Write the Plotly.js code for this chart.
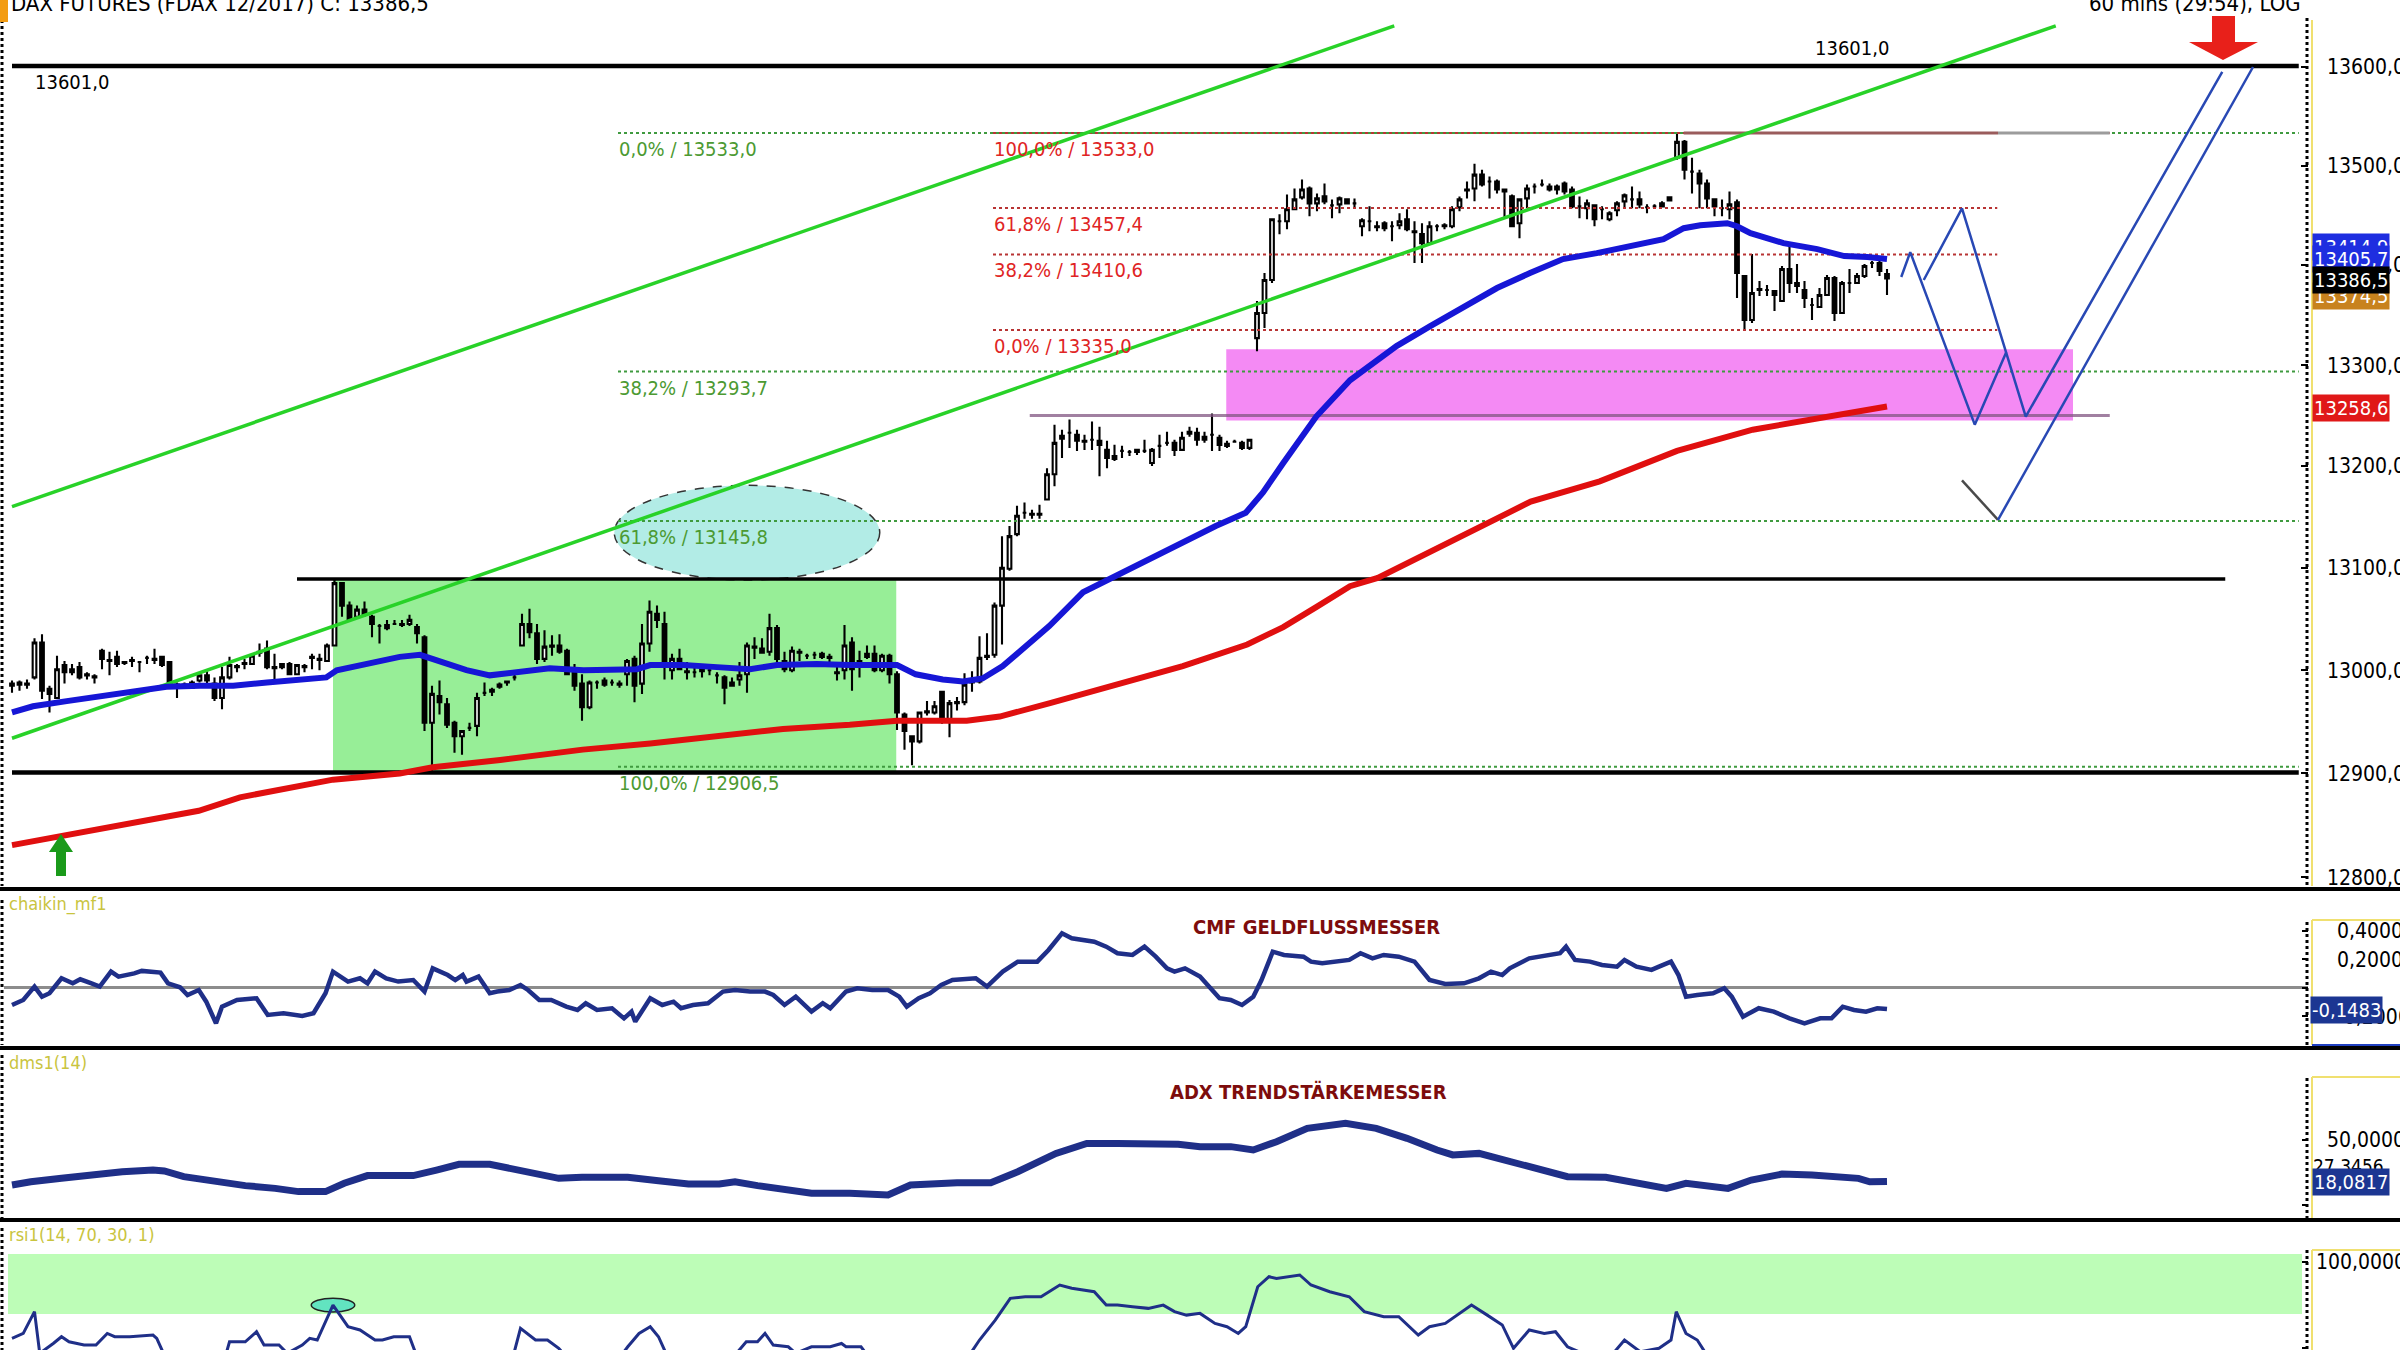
<!DOCTYPE html>
<html><head><meta charset="utf-8">
<script src="https://cdn.plot.ly/plotly-3.0.1.min.js"></script>
<style>html,body{margin:0;padding:0;background:#fff}#chart{width:2400px;height:1350px}</style>
</head><body><div id="chart"></div>
<script>
// ---------------- DATA ----------------
const open = [12985,12986,12987,12993,13027,12982,12973,13005,12998,13003,
12996,12994,13019,13010,13013,13008,13009,13008,13012,13011,
13013,13008,12986,12985,12983,12990,12995,12987,12973,12993,
13003,13006,13006,13017,13021,13003,13003,13006,12996,13003,
13012,13010,13009,13024,13085,13063,13052,13059,13052,13043,
13041,13045,13045,13045,13042,13032,12949,12975,12967,12949,
12936,12944,12946,12978,12979,12984,12988,12993,13024,13045,
13036,13011,13023,13024,13019,12998,12987,12964,12988,12990,
12988,12987,12996,13011,12987,13026,13055,13045,13000,13011,
12999,12998,12999,13000,12995,12993,12988,12991,12996,13023,
13021,13018,13041,13009,13000,13018,13014,13015,13016,13013,
12998,13000,13027,13005,13013,13016,13000,13014,12996,12957,
12936,12931,12959,12959,12979,12950,12968,12969,12988,12989,
13013,13015,13063,13099,13133,13154,13153,13153,13167,13192,
13227,13233,13231,13225,13226,13225,13216,13207,13215,13214,
13214,13215,13203,13220,13223,13223,13216,13232,13233,13226,
13231,13228,13220,13224,13223,13218,13327,13352,13385,13444,
13444,13456,13468,13477,13462,13469,13460,13461,13466,13462,
13439,13444,13439,13442,13439,13440,13446,13434,13431,13422,
13439,13440,13439,13458,13475,13477,13491,13484,13484,13476,
13469,13442,13467,13479,13481,13479,13476,13482,13476,13459,
13457,13460,13456,13446,13455,13464,13466,13466,13458,13459,
13459,13465,13508,13524,13494,13492,13482,13466,13457,13456,
13463,13389,13345,13376,13375,13374,13364,13396,13382,13375,
13360,13358,13370,13387,13352,13382,13382,13389,13402,13402,
13391];
const high = [12990,12990,12991,13031,13035,12985,13014,13009,13006,13008,
12998,12996,13021,13018,13019,13009,13013,13009,13014,13021,
13014,13009,12988,12988,12990,12996,13000,12993,13003,13013,
13006,13011,13016,13026,13029,13016,13006,13008,13006,13006,
13016,13016,13026,13088,13086,13067,13063,13067,13054,13045,
13049,13049,13049,13054,13045,13034,12985,12990,12973,12951,
12942,12949,12978,12988,12983,12988,12990,12996,13055,13060,
13045,13039,13034,13035,13021,13006,12996,12990,12990,12993,
12991,12990,13011,13014,13045,13068,13063,13057,13016,13021,
13008,13003,13006,13003,12998,12995,12993,13008,13027,13032,
13031,13055,13044,13018,13023,13021,13016,13018,13018,13016,
13003,13044,13032,13019,13024,13024,13016,13016,12999,12959,
12937,12960,12970,12970,12979,12971,12974,12997,12999,13033,
13036,13066,13131,13141,13161,13164,13157,13162,13198,13241,
13236,13246,13236,13231,13244,13239,13225,13221,13220,13216,
13216,13226,13218,13231,13234,13226,13234,13239,13238,13234,
13252,13231,13225,13226,13225,13227,13364,13392,13447,13451,
13471,13477,13486,13479,13472,13482,13466,13469,13467,13467,
13447,13459,13444,13444,13444,13452,13456,13444,13442,13444,
13441,13442,13459,13469,13484,13502,13496,13489,13486,13477,
13471,13467,13481,13482,13486,13482,13481,13484,13479,13469,
13466,13461,13459,13454,13464,13472,13479,13474,13461,13461,
13464,13469,13533,13526,13508,13496,13486,13467,13466,13474,
13466,13390,13411,13384,13380,13374,13399,13421,13401,13384,
13367,13377,13390,13389,13384,13396,13392,13401,13404,13406,
13396];
const low = [12978,12980,12982,12991,12972,12959,12972,12987,12995,12991,
12991,12987,13001,12995,13003,13005,13003,12998,13006,13006,
13003,12985,12973,12982,12982,12988,12985,12970,12962,12991,
12998,13001,13005,13013,13001,12991,13001,12995,12995,12998,
13001,13000,13008,13023,13052,13049,13050,13052,13032,13026,
13039,13044,13042,13043,13026,12941,12902,12957,12944,12920,
12918,12941,12936,12975,12975,12982,12985,12990,13023,13031,
13006,13008,13014,13016,12995,12980,12951,12962,12982,12984,
12985,12983,12985,12969,12977,13018,13041,12991,12991,13000,
12991,12993,12993,12995,12987,12967,12985,12985,12978,13011,
13016,13014,13006,12998,12998,13009,13011,13011,13011,13008,
12990,12991,12980,12993,13011,12998,12998,12987,12942,12923,
12908,12929,12956,12957,12948,12935,12961,12966,12979,12987,
13010,13012,13025,13097,13131,13148,13148,13148,13166,13180,
13208,13218,13215,13216,13216,13190,13198,13205,13208,13210,
13211,13213,13200,13208,13220,13210,13215,13229,13220,13223,
13215,13215,13218,13223,13216,13216,13314,13337,13382,13431,
13436,13456,13466,13449,13454,13461,13447,13452,13461,13457,
13429,13434,13434,13434,13424,13436,13434,13402,13402,13421,
13434,13436,13437,13454,13467,13464,13479,13467,13472,13447,
13439,13427,13457,13472,13479,13474,13471,13471,13457,13447,
13446,13439,13446,13444,13449,13457,13457,13457,13452,13457,
13458,13464,13506,13486,13472,13457,13457,13449,13449,13446,
13367,13335,13342,13369,13369,13354,13364,13372,13372,13357,
13345,13357,13369,13344,13352,13372,13381,13387,13397,13389,
13370];
const close = [12987,12988,12986,13027,12980,12977,13001,12998,13001,12993,
12995,12993,13011,13009,13006,13007,13010,13008,13012,13010,
13005,12987,12985,12986,12988,12995,12990,12973,12993,13005,
13004,13007,13014,13018,13003,13002,13006,12996,13005,13004,
13013,13011,13024,13085,13063,13050,13059,13054,13045,13043,
13044,13045,13044,13049,13036,12949,12977,12969,12947,12936,
12941,12944,12973,12978,12981,12986,12989,12993,13045,13037,
13011,13023,13024,13018,12996,12985,12964,12988,12988,12986,
12988,12986,13009,12985,13026,13057,13049,13005,13011,13001,
12998,12998,13002,13000,12995,12983,12985,12995,13024,13022,
13017,13041,13011,13001,13019,13017,13014,13015,13013,13012,
12997,13024,13001,13009,13016,13000,13014,12996,12959,12941,
12931,12959,12960,12965,12950,12968,12969,12986,12989,13012,
13014,13063,13100,13131,13151,13154,13152,13152,13192,13223,
13230,13233,13225,13224,13226,13221,13208,13210,13215,13214,
13216,13215,13216,13220,13223,13216,13228,13234,13226,13229,
13231,13221,13222,13224,13218,13226,13352,13385,13446,13444,
13456,13466,13476,13462,13467,13464,13460,13467,13462,13462,
13445,13444,13438,13437,13439,13444,13436,13433,13422,13439,
13439,13439,13456,13466,13476,13491,13481,13484,13476,13474,
13439,13466,13477,13479,13481,13476,13479,13474,13459,13459,
13462,13446,13456,13452,13462,13470,13466,13461,13458,13459,
13462,13468,13524,13496,13494,13482,13467,13459,13457,13461,
13392,13345,13372,13375,13375,13370,13396,13382,13379,13367,
13360,13370,13387,13352,13382,13382,13389,13399,13402,13394,
13386.5];
const bar = open.map((_, i) => i);

// moving averages (read as points)
const blueMaX = [0,2.8,7.3,11.7,16.2,20.6,25.1,29.5,34,38.4,41.9,43.3,47.3,51.7,54.4,56.2,60.6,63.7,67.3,71.7,76.2,80.6,83.3,85.1,89.5,94,98.4,102,107.3,111.7,116.2,118,120.5,124.1,126.8,129.4,132.1,135.2,138.3,142.8,147.2,151.7,156.1,160.5,164.5,166.8,169.5,173.9,178.4,184.6,189.1,193.5,198,202.4,206.8,211.3,215.7,220.2,222.9,225.1,228.7,230,231.8,236.2,240.7,244.3,247.4,250];
const blueMaY = [12959,12965,12970,12975,12980,12984,12985,12985,12988,12990,12993,13000,13006,13013,13015,13011,13000,12995,12998,13002,13000,13000,13001,13005,13005,13003,13001,13005,13006,13005,13006,13005,12996,12991,12989,12992,13004,13023,13043,13076,13092,13110,13125,13141,13154,13174,13203,13249,13285,13319,13339,13357,13377,13392,13406,13412,13419,13426,13437,13440,13442,13439,13432,13422,13416,13409,13408,13406];
const redMaX = [0,24.9,30.4,42.8,51.7,56.1,65.1,67.3,76.1,85.1,94,102.8,111.7,118,127.3,131.7,138.4,147.3,156.1,164.7,169.5,174,178.4,182.1,202.5,211.7,222,232.1,242.4,250];
const redMaY = [12831,12864,12877,12894,12900,12906,12913,12915,12923,12929,12936,12943,12947,12951,12951,12955,12968,12986,13004,13025,13042,13062,13082,13090,13165,13185,13215,13236,13250,13259];

// indicators
const cmfX = [0,1.5,3,4,5,6.6,8.1,9.1,10.6,11.7,13.2,14.2,16.3,17.3,19.8,20.8,22.4,23.4,24.9,25.9,27.2,28,30,32.6,34.1,36.2,38.7,40.2,41.8,42.8,44.8,46.4,47.4,48.4,49.9,51.5,53.5,55,56.1,58.1,59.1,60.1,60.6,62.2,63.7,64.7,66.3,67.8,68.8,70.3,71.9,73.9,75.4,76.5,78,80,81.6,82.6,83.1,85.1,86.7,88.2,89.2,90.8,92.8,94.8,96.4,98.4,100.4,101.5,103,104.5,106.6,108.1,109.1,111.2,112.7,114.7,116.8,118.3,119.3,120.9,122.4,123.9,125.4,128.5,130,132.1,134.1,136.7,138.2,140,141.3,144.3,145.9,147.4,149.4,151,152.5,154,155,156.4,158.4,159.9,161,162.5,164,165.5,166.6,168.1,169.6,172.2,173.2,174.7,176.3,178.3,179.8,181.4,182.9,184.9,187,189,191.1,193.6,195.6,197.2,198.7,199.7,202.3,204.8,206.4,207.2,208.4,210.4,212,214,215,216.6,218.6,219.6,221.2,222.2,223.2,224.7,226.8,228.3,229.3,230.8,232.9,234.9,237,239,241.1,242.6,244.1,245.6,247.2,248.7,250];
const cmfY = [-0.119,-0.084,0.010,-0.061,-0.037,0.068,0.033,0.061,0.033,0.010,0.115,0.080,0.103,0.120,0.108,0.033,0.005,-0.049,-0.014,-0.096,-0.248,-0.131,-0.084,-0.072,-0.189,-0.177,-0.196,-0.177,-0.037,0.115,0.045,0.068,0.033,0.115,0.068,0.045,0.056,-0.025,0.138,0.091,0.056,0.091,0.045,0.080,-0.037,-0.025,-0.014,0.021,-0.014,-0.084,-0.084,-0.131,-0.154,-0.107,-0.154,-0.142,-0.213,-0.166,-0.236,-0.072,-0.119,-0.096,-0.142,-0.119,-0.107,-0.025,-0.014,-0.025,-0.025,-0.049,-0.119,-0.061,-0.166,-0.107,-0.142,-0.025,-0.002,-0.014,-0.014,-0.061,-0.131,-0.072,-0.037,0.021,0.056,0.068,0.010,0.115,0.185,0.185,0.267,0.384,0.349,0.325,0.290,0.244,0.232,0.290,0.220,0.138,0.115,0.138,0.080,-0.014,-0.072,-0.084,-0.119,-0.061,0.056,0.255,0.232,0.220,0.185,0.173,0.185,0.197,0.244,0.208,0.232,0.220,0.185,0.056,0.028,0.033,0.068,0.115,0.091,0.138,0.208,0.232,0.244,0.290,0.197,0.185,0.162,0.150,0.197,0.150,0.127,0.150,0.185,0.091,-0.061,-0.049,-0.037,-0.002,-0.061,-0.201,-0.142,-0.166,-0.213,-0.248,-0.213,-0.213,-0.131,-0.154,-0.166,-0.142,-0.148];
const adxX = [0,2.5,6.6,10.6,14.7,18.8,20.3,22.9,27,31.1,35.1,38.2,41.8,44.3,47.4,53.5,56.6,59.6,63.7,67.8,72.9,76,82.1,86.2,90.2,94.3,96.4,99.4,102.5,106.6,111.7,114.7,116.8,119.8,122.9,126,130.5,134.1,139.2,143.3,147.4,151.5,155.5,158.4,162.5,165.5,168.6,172.7,177.8,181.9,186,190,192.1,195.6,199.2,203.3,207.4,212.5,216.6,220.6,223.2,225.7,228.8,231.9,236,240,243.1,246.2,247.7,250];
const adxY = [15.4,17.9,20.5,23.1,25.6,26.9,26.2,21.8,17.9,14.9,12.8,10.3,10.3,16.7,22.6,22.6,26.9,31.3,31.3,26.9,20.5,21.3,21.3,18.7,16.2,16.2,17.9,14.9,12.3,9.0,9.0,8.5,7.7,15.4,16.7,17.2,17.2,25.6,39.7,47.4,47.4,47.4,46.7,44.9,44.9,42.3,48.7,59.0,62.8,59.0,51.3,42.3,38.5,39.7,34.6,28.2,21.8,21.3,16.7,12.8,16.7,15.4,12.8,19.2,23.8,23.1,21.3,20.5,17.9,18.1];
const rsiX = [0,1.5,3,3.7,5.5,6.6,7.6,9.6,11.2,12.7,13.7,15.7,18.8,19.3,20.3,22.9,28.5,29,31.1,32.6,33.6,35.6,36.7,38.7,39.7,40.7,42.8,44.8,46.4,48.4,49.4,50.9,53,54,59.6,66.8,67.8,69.8,71.4,72.9,73.9,81.1,82.1,83.6,85.1,86.2,87.2,96.4,97.9,99.4,100.4,101.5,103.5,104.5,106.6,109.1,110.6,111.2,113.2,113.7,116.8,127.5,129,131.1,133.1,135.1,137.2,139.7,141.3,144.3,145.9,147.4,149.4,151.5,153.5,155,156.6,158.4,160.4,162,163.5,164.5,166.1,167.6,168.6,171.7,173.2,175.7,178.3,180.3,182.9,184.9,187.5,189,191.1,193.1,194.6,196.7,198.7,200.2,202.3,204.3,205.8,207.4,209.4,213.5,215,217.1,219.6,221.2,221.9,223.2,224.7,225.7,230,250];
const rsiY = [55.9,58.7,71.3,47.2,52.9,56.8,53.9,52.0,52.0,58.7,56.8,56.8,57.8,55.9,46.2,45.2,46.2,53.9,53.9,59.7,52.0,52.0,47.2,52.0,55.9,54.9,75.1,62.6,60.7,54.9,54.9,56.8,56.8,45.2,45.2,45.2,61.6,54.9,54.9,50.1,45.2,45.2,51.0,58.7,62.6,56.8,47.2,46.2,53.9,53.9,58.7,52.0,51.0,47.2,51.0,51.0,52.9,51.0,51.0,48.1,46.2,45.2,54.9,66.4,79.0,79.9,79.9,86.7,84.8,82.8,75.1,75.1,74.1,73.2,75.1,71.3,69.3,70.3,64.5,62.6,58.7,62.6,85.7,91.5,90.5,92.5,86.7,82.8,79.9,71.3,68.4,68.4,57.8,62.6,64.5,70.3,75.1,69.3,63.6,50.1,60.7,58.7,59.7,51.0,47.2,47.2,54.9,48.1,50.1,54.9,71.3,58.7,54.9,48.1,45,46];

// levels, fibonacci, drawings
const blackLevels = [13601, 13089, 12901];
const blackFrom = [0, 38, 0];
const blackTo = [304.9, 295.1, 304.9];
const fibGreenLevels = [13533, 13293.7, 13145.8, 12906.5];
const fibGreenLabels = ['0,0% / 13533,0', '38,2% / 13293,7', '61,8% / 13145,8', '100,0% / 12906,5'];
const fibRedLevels = [13533, 13457.4, 13410.6, 13335];
const fibRedLabels = ['100,0% / 13533,0', '61,8% / 13457,4', '38,2% / 13410,6', '0,0% / 13335,0'];
const fibRedTo = [279.7, 264.7, 264.7, 264.7];
const channelUpX = [0, 184.3], channelUpY = [13160, 13642];
const channelLoX = [0, 272.5], channelLoY = [12934, 13642];
const zig1X = [251.9, 253.1, 261.7, 265.9], zig1Y = [13388, 13413, 13241, 13313];
const zig2X = [254.9, 260, 268.5, 294.7], zig2Y = [13385, 13457, 13249, 13595];
const checkX = [260, 264.8], checkY = [13186, 13147];
const riseX = [264.8, 298.8], riseY = [13147, 13600];
const priceTicks = [12800, 12900, 13000, 13100, 13200, 13300, 13400, 13500, 13600];
const priceTickText = ['12800,00','12900,00','13000,00','13100,00','13200,00','13300,00','13400,00','13500,00','13600,00'];

// ---------------- GEOMETRY HELPERS ----------------
const W = 2400, H = 1350, ML = 4, MR = 92, PW = W - ML - MR;
const X = px => (px - ML) / PW;
const Y = py => 1 - py / H;
const PRICE_DOM = [0.342222, 0.986667];
const LOG_RANGE = [4.1068683, 4.1351307];
const PY = p => PRICE_DOM[0] + (Math.log10(p) - LOG_RANGE[0]) / (LOG_RANGE[1] - LOG_RANGE[0]) * (PRICE_DOM[1] - PRICE_DOM[0]);
const FONT = "'Liberation Sans Narrow', 'Arial Narrow', 'DejaVu Sans Condensed', 'Liberation Sans', sans-serif";

function line(x, y, color, width, dash, yaxis) {
  return {type: 'scatter', mode: 'lines', x: x, y: y, xaxis: 'x', yaxis: yaxis || 'y',
    line: {color: color, width: width, dash: dash || 'solid'}, hoverinfo: 'skip', showlegend: false};
}

const traces = [];
traces.push({type: 'candlestick', x: bar, open: open, high: high, low: low, close: close,
  xaxis: 'x', yaxis: 'y', whiskerwidth: 0, hoverinfo: 'skip', showlegend: false,
  increasing: {line: {color: '#000', width: 2.1}, fillcolor: '#ffffff'},
  decreasing: {line: {color: '#000', width: 2.1}, fillcolor: '#000000'}});

fibGreenLevels.forEach(v => traces.push(line([80.8, 304.9], [v, v], '#3f9a3f', 2, 'dot')));
fibRedLevels.forEach((v, i) => traces.push(line([130.8, fibRedTo[i]], [v, v], '#b83434', 2, 'dot')));
traces.push(line([222.9, 264.8], [13533, 13533], '#9a5c5c', 3));
traces.push(line([264.8, 279.7], [13533, 13533], '#9c9c9c', 3));
traces.push(line([135.7, 279.7], [13250, 13250], 'rgba(130,85,130,0.75)', 3));
blackLevels.forEach((v, i) => traces.push(line([blackFrom[i], blackTo[i]], [v, v], '#000', i === 1 ? 3.5 : 4.5)));
traces.push(line(channelUpX, channelUpY, '#28d228', 3.5));
traces.push(line(channelLoX, channelLoY, '#28d228', 3.5));
traces.push(line(redMaX, redMaY, '#e00f0f', 6));
traces.push(line(blueMaX, blueMaY, '#1616d6', 6));
traces.push(line(zig1X, zig1Y, '#2848b4', 2.5));
traces.push(line(zig2X, zig2Y, '#2848b4', 2.5));
traces.push(line(checkX, checkY, '#4a4a4a', 2.5));
traces.push(line(riseX, riseY, '#2848b4', 2.5));
traces.push(line(cmfX, cmfY, '#1f2f88', 4.5, 'solid', 'y2'));
traces.push(line(adxX, adxY, '#1f2f88', 7, 'solid', 'y3'));
traces.push(line(rsiX, rsiY, '#1f2f88', 3, 'solid', 'y4'));

// ---------------- SHAPES ----------------
function pxPath(pts) {
  return 'M ' + pts.map(p => X(p[0]).toFixed(5) + ',' + Y(p[1]).toFixed(5)).join(' L ') + ' Z';
}
function pxLine(x0, y0, x1, y1, color, width, dash) {
  return {type: 'line', xref: 'paper', yref: 'paper', x0: X(x0), x1: X(x1), y0: Y(y0), y1: Y(y1),
    line: {color: color, width: width, dash: dash || 'solid'}, layer: 'above'};
}
const shapes = [
  {type: 'rect', xref: 'x', yref: 'paper', x0: 42.8, x1: 117.9, y0: PY(12901), y1: PY(13089), fillcolor: '#97ee97', line: {width: 0}, layer: 'below'},
  {type: 'rect', xref: 'x', yref: 'paper', x0: 161.9, x1: 274.8, y0: PY(13245), y1: PY(13316), fillcolor: '#f48af4', line: {width: 0}, layer: 'below'},
  {type: 'circle', xref: 'x', yref: 'paper', x0: 80.3, x1: 115.7, y0: PY(13088), y1: PY(13181), fillcolor: '#b2ece6', line: {color: '#333', width: 1.5, dash: 'dash'}, layer: 'below'},
  {type: 'rect', xref: 'paper', yref: 'y4', x0: X(8), x1: X(2302), y0: 70, y1: 104.6, fillcolor: '#bdfdb7', line: {width: 0}, layer: 'below'},
  {type: 'circle', xref: 'x', yref: 'y4', x0: 39.9, x1: 45.7, y0: 71.1, y1: 79.1, fillcolor: '#62e4c0', line: {color: '#222', width: 1.5}, layer: 'below'},
  // panel separators
  pxLine(0, 889, 2400, 889, '#000', 4), pxLine(0, 1048, 2400, 1048, '#000', 4), pxLine(0, 1220, 2400, 1220, '#000', 4),
  // right axis dotted lines + yellow borders
  pxLine(2307, 18, 2307, 886, '#000', 3, 'dot'), pxLine(2307, 922, 2307, 1045, '#000', 3, 'dot'),
  pxLine(2307, 1078, 2307, 1218, '#000', 3, 'dot'), pxLine(2307, 1250, 2307, 1350, '#000', 3, 'dot'),
  pxLine(2312, 20, 2312, 886, '#f0e070', 2), pxLine(2312, 920, 2312, 1045, '#f0e070', 2),
  pxLine(2312, 1077, 2312, 1218, '#f0e070', 2), pxLine(2312, 1250, 2312, 1350, '#f0e070', 2),
  pxLine(2312, 920, 2400, 920, '#f0e070', 2), pxLine(2312, 1077, 2400, 1077, '#f0e070', 2), pxLine(2312, 1250, 2400, 1250, '#f0e070', 2),
  pxLine(2312, 1045, 2400, 1045, '#2040c0', 2),
  // left dotted axis
  pxLine(2, 20, 2, 886, '#000', 3, 'dot'), pxLine(2, 900, 2, 1045, '#000', 3, 'dot'),
  pxLine(2, 1055, 2, 1218, '#000', 3, 'dot'), pxLine(2, 1228, 2, 1350, '#000', 3, 'dot'),
  // arrows and marker
  {type: 'path', xref: 'paper', yref: 'paper', path: pxPath([[2212,16],[2235,16],[2235,42],[2258,42],[2223,60],[2189,42],[2212,42]]), fillcolor: '#e8201a', line: {width: 0}, layer: 'above'},
  {type: 'path', xref: 'paper', yref: 'paper', path: pxPath([[61,834],[73,852],[66,852],[66,876],[56,876],[56,852],[49,852]]), fillcolor: '#1a9a1a', line: {width: 0}, layer: 'above'},
  {type: 'rect', xref: 'paper', yref: 'paper', x0: X(0), x1: X(8), y0: Y(22), y1: Y(0), fillcolor: '#f39c12', line: {width: 0}, layer: 'above'}
];

// ---------------- ANNOTATIONS ----------------
function txt(text, x, y, o) {
  o = o || {};
  return {text: text, x: x, y: y, xref: o.xref || 'paper', yref: 'paper', showarrow: false,
    xanchor: o.xanchor || 'left', yanchor: o.yanchor || 'middle', yshift: o.yshift || 0,
    font: {family: FONT, size: o.size || 20, color: o.color || '#000'},
    bgcolor: o.bg || 'rgba(0,0,0,0)', borderpad: o.pad === undefined ? 0 : o.pad};
}
const annotations = [
  txt('DAX FUTURES (FDAX 12/2017) C: 13386,5', X(10), Y(4), {size: 22}),
  txt('60 mins (29:54), LOG', X(2302), Y(4), {size: 22, xanchor: 'right'}),
  txt('13601,0', 2.9, PY(13601), {xref: 'x', yanchor: 'top', yshift: -3}),
  txt('13601,0', 240.3, PY(13601), {xref: 'x', yanchor: 'bottom', yshift: 5}),
  txt('chaikin_mf1', X(8), Y(904), {size: 18, color: '#c9c43e'}),
  txt('dms1(14)', X(8), Y(1062), {size: 18, color: '#c9c43e'}),
  txt('rsi1(14, 70, 30, 1)', X(8), Y(1234), {size: 18, color: '#c9c43e'}),
  txt('<b>CMF GELDFLUSSMESSER</b>', X(1316), Y(927), {xanchor: 'center', color: '#7d0c0c'}),
  txt('<b>ADX TRENDSTÄRKEMESSER</b>', X(1308), Y(1092), {xanchor: 'center', color: '#7d0c0c'}),
  txt('13414,9', X(2312), Y(247), {color: '#fff', bg: '#1e2ee0', pad: 1}),
  txt('13405,7', X(2312), Y(259), {color: '#fff', bg: '#1e2ee0', pad: 1}),
  txt('13374,5', X(2312), Y(296), {color: '#fff', bg: '#c8821e', pad: 1}),
  txt('13386,5', X(2312), Y(280), {color: '#fff', bg: '#000', pad: 1}),
  txt('13258,6', X(2312), Y(408), {color: '#fff', bg: '#e01818', pad: 1}),
  txt('-0,1483', X(2310), Y(1010), {color: '#fff', bg: '#1c3692', pad: 1}),
  txt('27,3456', X(2312), Y(1166), {size: 19}),
  txt('18,0817', X(2312), Y(1182), {color: '#fff', bg: '#1c3692', pad: 1})
];
fibGreenLevels.forEach((v, i) => annotations.push(txt(fibGreenLabels[i], 80.8, PY(v), {xref: 'x', yanchor: 'top', yshift: -3, color: '#4c9a32'})));
fibRedLevels.forEach((v, i) => annotations.push(txt(fibRedLabels[i], 130.8, PY(v), {xref: 'x', yanchor: 'top', yshift: -3, color: '#e02424'})));

// ---------------- LAYOUT ----------------
const tickFont = {family: FONT, size: 21, color: '#000'};
const fs = '\u2007';
const layout = {
  width: W, height: H, margin: {l: ML, r: MR, t: 0, b: 0},
  paper_bgcolor: '#fff', plot_bgcolor: '#fff', showlegend: false, hovermode: false,
  font: {family: FONT},
  xaxis: {domain: [0, 1], range: [-1.0667, 306.133], visible: false, rangeslider: {visible: false}, fixedrange: true},
  yaxis: {domain: PRICE_DOM, type: 'log', range: LOG_RANGE, side: 'right', anchor: 'x',
    tickvals: priceTicks, ticktext: priceTickText, ticks: 'inside', ticklen: 7, tickwidth: 2, tickcolor: '#000',
    showgrid: false, zeroline: false, showline: false, tickfont: tickFont, ticklabelstandoff: 18},
  yaxis2: {domain: [0.225926, 0.338519], range: [-0.4, 0.6667], side: 'right', anchor: 'x',
    tickvals: [0.4, 0.2, 0, -0.2], ticktext: ['0,4000', '0,2000', fs+fs+fs+fs+fs+'\u20080', '-0,2000'],
    ticks: 'inside', ticklen: 6, tickwidth: 2, tickcolor: '#000', showgrid: false,
    zeroline: true, zerolinecolor: '#8c8c8c', zerolinewidth: 3, showline: false, tickfont: tickFont, ticklabelstandoff: 28},
  yaxis3: {domain: [0.098519, 0.220741], range: [-9.23, 117.69], side: 'right', anchor: 'x',
    tickvals: [50, 0], ticktext: ['50,0000', fs+fs+fs+fs+fs+fs+'\u20080'],
    ticks: 'inside', ticklen: 6, tickwidth: 2, tickcolor: '#000', showgrid: false, zeroline: false, showline: false,
    tickfont: tickFont, ticklabelstandoff: 18},
  yaxis4: {domain: [0, 0.093333], range: [49.13, 121.97], side: 'right', anchor: 'x',
    tickvals: [100, 50], ticktext: ['100,0000', '50,0000'],
    ticks: 'inside', ticklen: 6, tickwidth: 2, tickcolor: '#000', showgrid: false, zeroline: false, showline: false,
    tickfont: tickFont, ticklabelstandoff: 7},
  shapes: shapes, annotations: annotations
};

Plotly.newPlot('chart', traces, layout, {staticPlot: true, displayModeBar: false});
</script></body></html>
